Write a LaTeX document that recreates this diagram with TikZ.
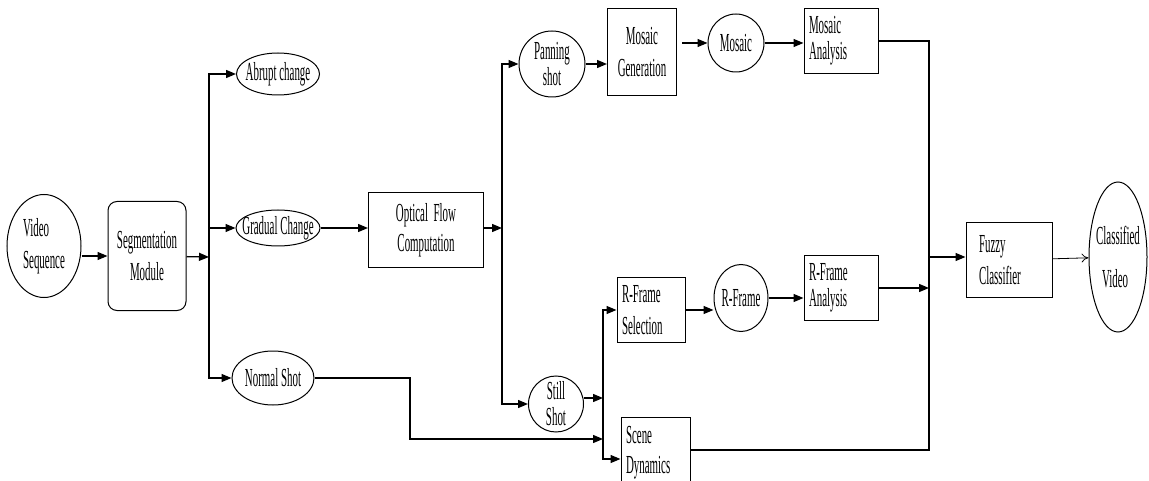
\documentclass[tikz,border=0pt]{standalone}
\usepackage{fontspec}
\newfontfamily\diagfont[FakeStretch=0.42]{Liberation Serif}
\usetikzlibrary{arrows.meta,shapes.geometric}
\tikzset{
  >={Triangle[length=10pt,width=8pt]},
  every node/.style={font=\diagfont\fontsize{26}{32}\selectfont, inner sep=0pt},
  blk/.style={draw, line width=1pt, rectangle, align=center},
  lblk/.style={blk, align=left, inner xsep=5pt, text width=#1},
  rblk/.style={blk, rounded corners=9pt},
  oval/.style={draw, line width=1pt, ellipse, inner xsep=-8pt, inner ysep=-8pt, align=center},
  arr/.style={->, line width=1.3pt},
  wire/.style={line width=1.3pt},
  thinarr/.style={-{To[length=7pt,width=9pt]}, line width=0.8pt}
}
\begin{document}
\begin{tikzpicture}[x=1pt, y=-1pt]
\useasboundingbox (0,0) rectangle (1149,481);
% input side
\node[oval, minimum width=74pt, minimum height=103pt, align=left] (vid) at (44,246) {Video\\Sequence};
\node[rblk, minimum width=78pt, minimum height=109pt] (seg) at (147,256) {Segmentation\\Module};
\coordinate (lb) at (209,257);
% shot types
\node[oval, minimum width=83pt, minimum height=42pt] (abr) at (278,74) {Abrupt change};
\node[oval, minimum width=84pt, minimum height=36pt] (grad) at (278,228) {Gradual Change};
\node[oval, minimum width=82pt, minimum height=54pt] (norm) at (273,378) {Normal Shot};
\node[blk, minimum width=115pt, minimum height=75pt] (opt) at (426,230) {Optical~~Flow\\[-2pt]Computation};
\coordinate (mb) at (502,228);
% panning branch
\node[oval, minimum width=66pt, minimum height=66pt] (pan) at (552,64) {Panning\\[-6pt]shot};
\node[blk, minimum width=69pt, minimum height=87pt] (mgen) at (642,52) {Mosaic\\Generation};
\node[oval, minimum width=56pt, minimum height=58pt] (mos) at (736,43) {Mosaic};
\node[lblk=64pt, minimum width=74pt, minimum height=65pt] (man) at (841,41) {Mosaic\\[-6pt]Analysis};
% still branch
\node[oval, minimum width=55pt, minimum height=56pt] (still) at (556,404) {Still\\[-6pt]Shot};
\coordinate (sb) at (603,398);
\node[lblk=58pt, minimum width=68pt, minimum height=64pt] (rsel) at (651,310) {R-Frame\\Selection};
\node[oval, minimum width=54pt, minimum height=67pt] (rfr) at (741,298) {R-Frame};
\node[lblk=64pt, minimum width=74pt, minimum height=65pt] (ran) at (841,288) {R-Frame\\[-6pt]Analysis};
\node[lblk=59pt, minimum width=69pt, minimum height=72pt] (sdyn) at (655.5,453) {Scene\\[-2pt]Dynamics};
\coordinate (nk) at (410,439);
% output side
\coordinate (rb) at (929,257);
\node[lblk=60pt, inner xsep=13pt, minimum width=86pt, minimum height=75pt] (fuz) at (1009,260) {Fuzzy\\Classifier};
\node[oval, minimum width=58pt, minimum height=150pt, align=left] (cls) at (1118,257) {Classified\\[11pt]\hspace*{6pt}Video};
% connectors
\draw[arr] (vid.east |- seg) -- (seg);
\draw[arr] (seg) -- (lb);
\foreach \n in {abr,grad,norm} \draw[arr] (lb) |- (\n);
\draw[arr] (grad) -- (grad -| opt.west);
\draw[arr] (opt.east |- mb) -- (mb);
\foreach \n in {pan,still} \draw[arr] (mb) |- (\n);
\draw[arr] (pan) -- (pan -| mgen.west);
\draw[arr] ([xshift=5pt]mgen.east |- mos) -- (mos);
\draw[arr] (mos) -- (mos -| man.west);
\draw[wire] (man) -| (rb) |- ([yshift=3pt]sdyn.east);
\draw[arr] (still.east |- sb) -- (sb);
\draw[arr] (sb) |- (rsel);
\draw[arr] (sb) |- ([yshift=-6pt]sdyn.west);
\draw[arr] (norm) -| (nk) -- (nk -| sb);
\draw[arr] (rsel) -- (rsel -| rfr.west);
\draw[arr] (rfr) -- (rfr -| ran.west);
\draw[arr] (ran) -- (ran -| rb);
\draw[arr] (rb) -- (rb -| fuz.west);
\draw[thinarr] (fuz) -- (cls);
\end{tikzpicture}
\end{document}
